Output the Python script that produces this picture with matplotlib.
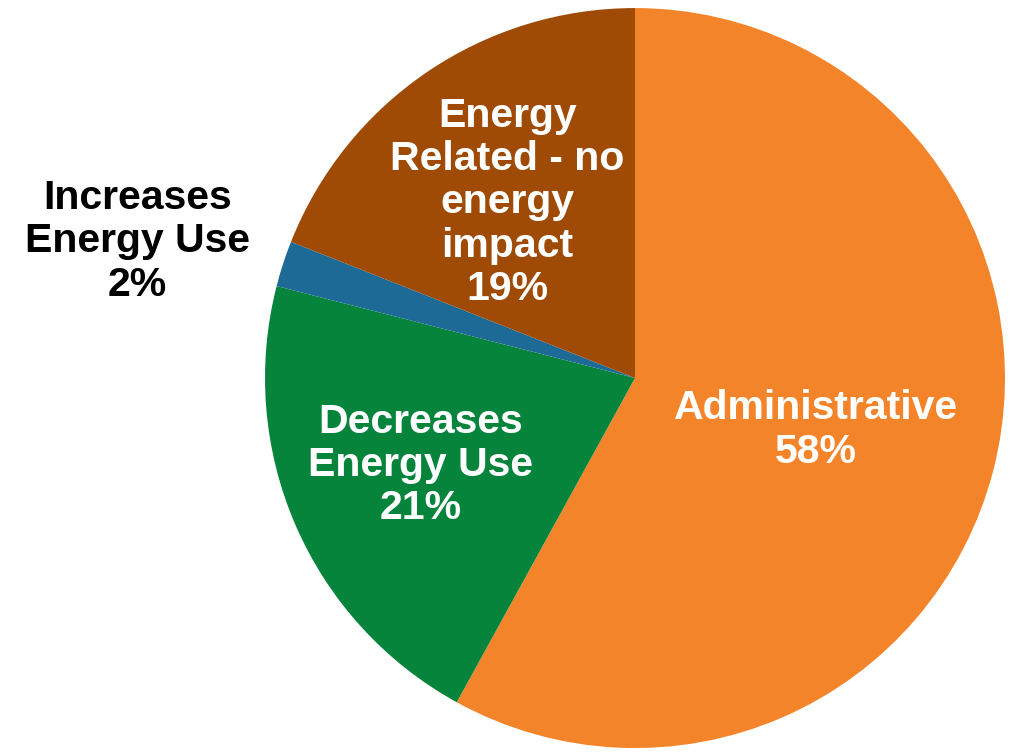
import matplotlib
matplotlib.use("Agg")
import matplotlib.pyplot as plt

labels = ["Administrative", "Decreases\nEnergy Use", "Increases\nEnergy Use", "Energy\nRelated - no\nenergy\nimpact"]
shares = [58, 21, 2, 19]
colors = ["#F4842A", "#07843C", "#1D6A96", "#9F4B06"]
text_colors = ["white", "white", "black", "white"]
# label centres in pie units (radius = 1)
label_pos = [(0.49, -0.14), (-0.58, -0.235), (-1.345, 0.37), (-0.345, 0.475)]

plt.rcParams['font.family'] = ['Liberation Sans', 'DejaVu Sans']

fig = plt.figure(figsize=(10.2, 7.53), dpi=100)
ax = fig.add_axes([0.2598, 0.0066, 0.7255, 0.9827])
wedges, _ = ax.pie(shares, colors=colors, startangle=90, counterclock=False,
                   radius=1.0, wedgeprops=dict(linewidth=0))
ax.set_xlim(-1, 1)
ax.set_ylim(-1, 1)
ax.set_aspect('equal')
ax.axis('off')

for lab, val, (x, y), c in zip(labels, shares, label_pos, text_colors):
    ax.text(x, y, f"{lab}\n{val}%", ha='center', va='center', color=c,
            fontsize=29.5, fontweight='bold', linespacing=1.18, clip_on=False)

fig.savefig("out.png", dpi=100)
